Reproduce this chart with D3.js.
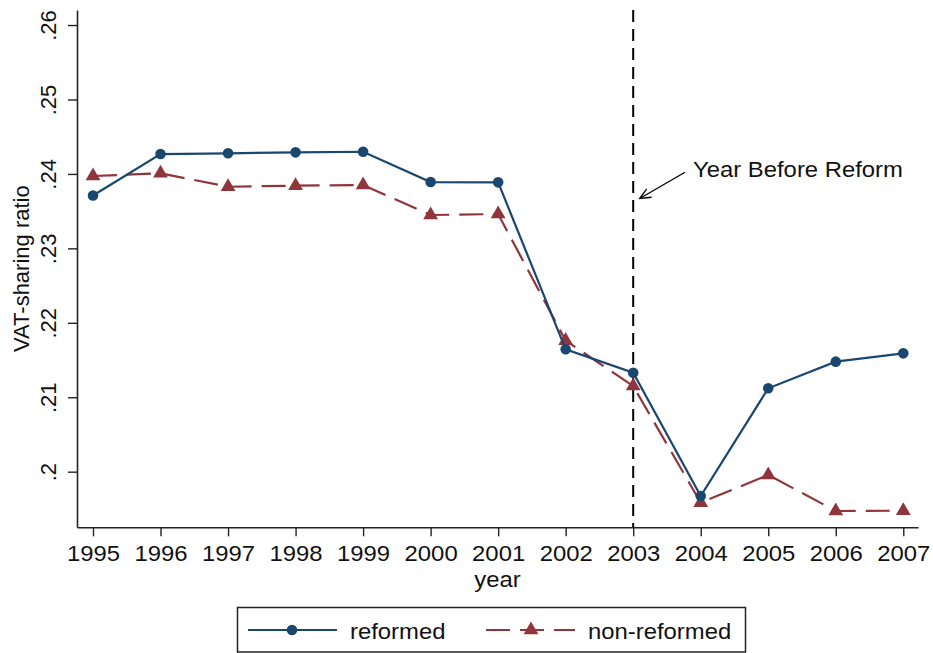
<!DOCTYPE html>
<html>
<head>
<meta charset="utf-8">
<script src="https://cdn.jsdelivr.net/npm/d3@7"></script>
<style>
  html, body { margin: 0; padding: 0; background: #fff; }
  svg { display: block; font-family: "Liberation Sans", Arial, Helvetica, sans-serif; }
</style>
</head>
<body>
<svg id="chart" width="933" height="653"></svg>
<script>
// VAT-sharing ratio by year, reformed vs. non-reformed
const years = [1995, 1996, 1997, 1998, 1999, 2000, 2001, 2002, 2003, 2004, 2005, 2006, 2007];
const reformed = [0.2371, 0.24267, 0.24277, 0.2429, 0.24298, 0.23891, 0.23887, 0.21644, 0.2133, 0.19674, 0.2112, 0.21478, 0.2159];
const nonReformed = [0.23972, 0.24008, 0.23828, 0.23842, 0.23851, 0.23448, 0.23461, 0.2176, 0.21151, 0.19584, 0.19956, 0.19472, 0.19476];
const yTicks = [0.2, 0.21, 0.22, 0.23, 0.24, 0.25, 0.26];
const yTickLabels = [".2", ".21", ".22", ".23", ".24", ".25", ".26"];
const reformYear = 2003;
const seriesNames = ["reformed", "non-reformed"];

const BLUE = "#1a476f";
const RED = "#90353b";

const svg = d3.select("#chart");

const plot = { left: 77, right: 918, top: 10, bottom: 527.3 };

const x = d3.scaleLinear().domain([1994.763, 2007.218]).range([plot.left, plot.right]);
const y = d3.scaleLinear().domain([0.19253, 0.26202]).range([plot.bottom, plot.top]);

// Horizontal labels are set slightly wide
function wide(sel, factor) {
  sel.each(function () {
    const t = d3.select(this);
    const w = this.getComputedTextLength();
    t.attr("textLength", w * factor).attr("lengthAdjust", "spacingAndGlyphs");
  });
}

// Y axis
const yAxis = svg.append("g")
  .attr("transform", `translate(${plot.left},0)`)
  .call(d3.axisLeft(y).tickValues(yTicks).tickSize(9).tickSizeOuter(0)
    .tickFormat((d, i) => yTickLabels[i]));
yAxis.select(".domain").attr("stroke", "#222").attr("stroke-width", 1.6);
yAxis.selectAll(".tick line").attr("stroke", "#222").attr("stroke-width", 1.4);
yAxis.selectAll(".tick text")
  .attr("transform", "rotate(-90)")
  .attr("x", 0).attr("y", -21).attr("dy", 0)
  .attr("text-anchor", "middle")
  .attr("fill", "#111")
  .style("font-size", "22px");

// X axis
const xAxis = svg.append("g")
  .attr("transform", `translate(0,${plot.bottom})`)
  .call(d3.axisBottom(x).tickValues(years).tickSize(9).tickSizeOuter(0).tickFormat(d3.format("d")));
xAxis.select(".domain").attr("stroke", "#222").attr("stroke-width", 1.6);
xAxis.selectAll(".tick line").attr("stroke", "#222").attr("stroke-width", 1.4);
xAxis.selectAll(".tick text")
  .attr("y", 34).attr("dy", 0)
  .attr("fill", "#111")
  .style("font-size", "22.5px")
  .call(wide, 1.06);

// Axis titles
svg.append("text")
  .attr("transform", `translate(29,${(plot.top + plot.bottom) / 2}) rotate(-90)`)
  .attr("text-anchor", "middle")
  .attr("fill", "#111")
  .style("font-size", "22px")
  .text("VAT-sharing ratio");

svg.append("text")
  .attr("x", (plot.left + plot.right) / 2).attr("y", 587)
  .attr("text-anchor", "middle")
  .attr("fill", "#111")
  .style("font-size", "22.5px")
  .text("year")
  .call(wide, 1.06);

// Reference line at the year before reform
svg.append("line")
  .attr("x1", x(reformYear)).attr("x2", x(reformYear))
  .attr("y1", plot.top).attr("y2", plot.bottom)
  .attr("stroke", "#000").attr("stroke-width", 2)
  .attr("stroke-dasharray", "12,7");

// Annotation with arrow
const tip = [x(reformYear) + 6.5, 198.5];
const tail = [685, 172.3];
svg.append("line")
  .attr("x1", tail[0]).attr("y1", tail[1]).attr("x2", tip[0]).attr("y2", tip[1])
  .attr("stroke", "#000").attr("stroke-width", 1.3);
{
  const ang = Math.atan2(tail[1] - tip[1], tail[0] - tip[0]);
  const len = 12, spread = 0.42;
  const a1 = [tip[0] + len * Math.cos(ang + spread), tip[1] + len * Math.sin(ang + spread)];
  const a2 = [tip[0] + len * Math.cos(ang - spread), tip[1] + len * Math.sin(ang - spread)];
  svg.append("path")
    .attr("d", `M${a1[0]},${a1[1]}L${tip[0]},${tip[1]}L${a2[0]},${a2[1]}`)
    .attr("fill", "none").attr("stroke", "#000").attr("stroke-width", 1.3);
}
svg.append("text")
  .attr("x", 693).attr("y", 177)
  .attr("fill", "#111")
  .style("font-size", "22.5px")
  .text("Year Before Reform")
  .call(wide, 1.06);

// Series
const line = d3.line().x(d => x(d[0])).y(d => y(d[1]));
const redPts = years.map((yr, i) => [yr, nonReformed[i]]);
const bluePts = years.map((yr, i) => [yr, reformed[i]]);

const tri = d3.symbol().type(d3.symbolTriangle).size(95);

svg.append("path").datum(redPts)
  .attr("d", line).attr("fill", "none")
  .attr("stroke", RED).attr("stroke-width", 2.2)
  .attr("stroke-dasharray", "24,10");
svg.append("g").selectAll("path").data(redPts).join("path")
  .attr("d", tri)
  .attr("transform", d => `translate(${x(d[0])},${y(d[1])})`)
  .attr("fill", RED);

svg.append("path").datum(bluePts)
  .attr("d", line).attr("fill", "none")
  .attr("stroke", BLUE).attr("stroke-width", 2.2);
svg.append("g").selectAll("circle").data(bluePts).join("circle")
  .attr("cx", d => x(d[0])).attr("cy", d => y(d[1])).attr("r", 5.3)
  .attr("fill", BLUE);

// Legend
const lg = svg.append("g");
lg.append("rect")
  .attr("x", 237.5).attr("y", 607.5).attr("width", 508).attr("height", 44.5)
  .attr("fill", "#fff").attr("stroke", "#222").attr("stroke-width", 1.5);
const ly = 630;
lg.append("line").attr("x1", 248).attr("x2", 337).attr("y1", ly).attr("y2", ly)
  .attr("stroke", BLUE).attr("stroke-width", 2.2);
lg.append("circle").attr("cx", 292).attr("cy", ly).attr("r", 5.3).attr("fill", BLUE);
lg.append("text").attr("x", 350).attr("y", ly + 8.5)
  .attr("fill", "#111").style("font-size", "22.5px").text(seriesNames[0])
  .call(wide, 1.06);

lg.append("line").attr("x1", 486).attr("x2", 575).attr("y1", ly).attr("y2", ly)
  .attr("stroke", RED).attr("stroke-width", 2.2).attr("stroke-dasharray", "24,10");
lg.append("path").attr("d", tri).attr("transform", `translate(531,${ly})`).attr("fill", RED);
lg.append("text").attr("x", 588).attr("y", ly + 8.5)
  .attr("fill", "#111").style("font-size", "22.5px").text(seriesNames[1])
  .call(wide, 1.06);
</script>
</body>
</html>
